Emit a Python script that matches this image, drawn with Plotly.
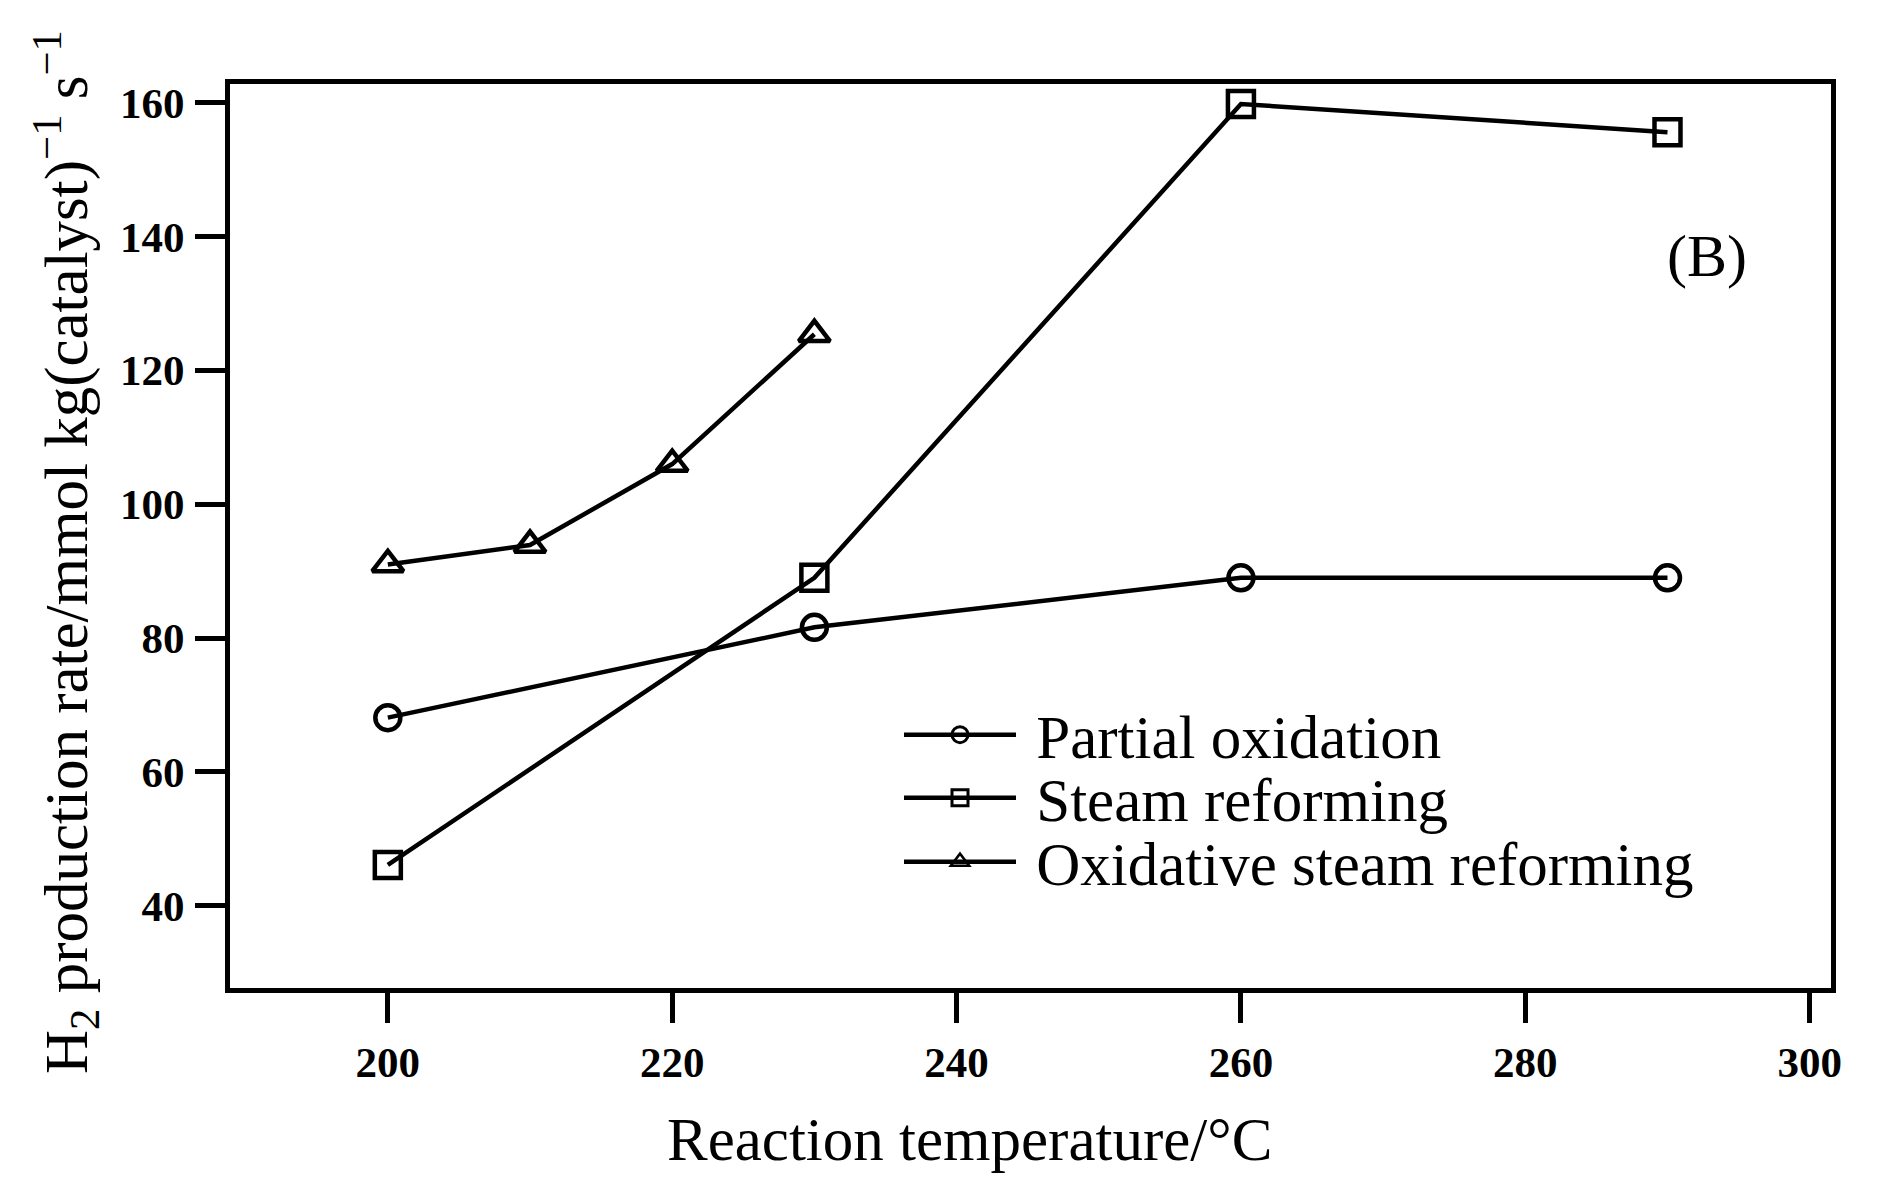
import plotly.graph_objects as go

# ---- data ----
temps_po = [200, 230, 260, 290]
rate_po = [68.1, 81.6, 89.0, 89.0]

temps_sr = [200, 230, 260, 290]
rate_sr = [46.1, 89.0, 159.8, 155.6]

temps_osr = [200, 210, 220, 230]
rate_osr = [91.0, 93.9, 106.0, 125.4]

series_names = ["Partial oxidation", "Steam reforming", "Oxidative steam reforming"]
x_ticks = [200, 220, 240, 260, 280, 300]
y_ticks = [40, 60, 80, 100, 120, 140, 160]

FONT = "Liberation Serif"
# page body has an 8px margin; figure is sized so that the plot area lands where the reference has it
OFF = 8
W, H = 1888, 1189
L, R, T, B = 222, 65, 76, 209
pw = W - L - R
ph = H - T - B
X0, Y1 = OFF + L, OFF + T + ph  # screen left / bottom of plot area


def sx(px):
    return (px - X0) / pw


def sy(py):
    return (Y1 - py) / ph


symbols = ["circle-open", "square-open", "triangle-up-open"]
sizes = [25, 26, 27]
xs = [temps_po, temps_sr, temps_osr]
ys = [rate_po, rate_sr, rate_osr]
legend_ids = ["legend", "legend2", "legend3"]
legend_mlw = [3, 3, 2.5]

fig = go.Figure()
for i in range(3):
    fig.add_trace(go.Scatter(
        x=xs[i], y=ys[i], name=series_names[i], mode="lines+markers", showlegend=False,
        line=dict(color="black", width=4.5),
        marker=dict(symbol=symbols[i], size=sizes[i], color="black",
                    line=dict(width=4.5, color="black")),
    ))
# legend keys (no data of their own)
for i in range(3):
    fig.add_trace(go.Scatter(
        x=[None], y=[None], name="\u00a0" + series_names[i], mode="lines+markers",
        legend=legend_ids[i], showlegend=True,
        line=dict(color="black", width=4.5),
        marker=dict(symbol=symbols[i], size=16, color="black",
                    line=dict(width=legend_mlw[i], color="black")),
    ))

axis_common = dict(
    showgrid=False, zeroline=False, showline=True, mirror=True,
    linecolor="black", linewidth=5,
    ticks="outside", ticklen=30, tickwidth=5, tickcolor="black",
    tickfont=dict(family=FONT, size=43, color="black", weight="bold"),
)

fig.update_xaxes(range=[188.9, 301.5], tickvals=x_ticks, ticktext=[str(v) for v in x_ticks],
                 ticklabelstandoff=2, **axis_common)
fig.update_yaxes(range=[27.7, 162.8], tickvals=y_ticks, ticktext=[str(v) for v in y_ticks],
                 ticklabelstandoff=2, **axis_common)

fig.add_annotation(
    text="Reaction temperature/°C", xref="paper", yref="paper",
    x=sx(969), y=sy(1139), xanchor="center", yanchor="middle",
    showarrow=False, font=dict(family=FONT, size=61, color="black"),
)
fig.add_annotation(
    text="H<sub>2</sub> production rate/mmol kg(catalyst)<sup>−1</sup> s<sup>−1</sup>",
    xref="paper", yref="paper", textangle=-90,
    x=sx(65), y=sy(552), xanchor="center", yanchor="middle",
    showarrow=False, font=dict(family=FONT, size=61, color="black"),
)
fig.add_annotation(
    text="(B)", xref="paper", yref="paper",
    x=sx(1707), y=sy(256), xanchor="center", yanchor="middle",
    showarrow=False, font=dict(family=FONT, size=60, color="black"),
)

row_y = [735, 798, 862]
legend_common = dict(
    xanchor="left", yanchor="middle",
    font=dict(family=FONT, size=61, color="black"),
    bgcolor="rgba(0,0,0,0)", borderwidth=0, itemwidth=112,
)

fig.update_layout(
    width=W, height=H,
    margin=dict(l=L, r=R, t=T, b=B, autoexpand=False),
    paper_bgcolor="white", plot_bgcolor="white",
    showlegend=True,
    legend=dict(x=sx(899), y=sy(row_y[0]), **legend_common),
    legend2=dict(x=sx(899), y=sy(row_y[1]), **legend_common),
    legend3=dict(x=sx(899), y=sy(row_y[2]), **legend_common),
)

fig.write_html("out.html")
